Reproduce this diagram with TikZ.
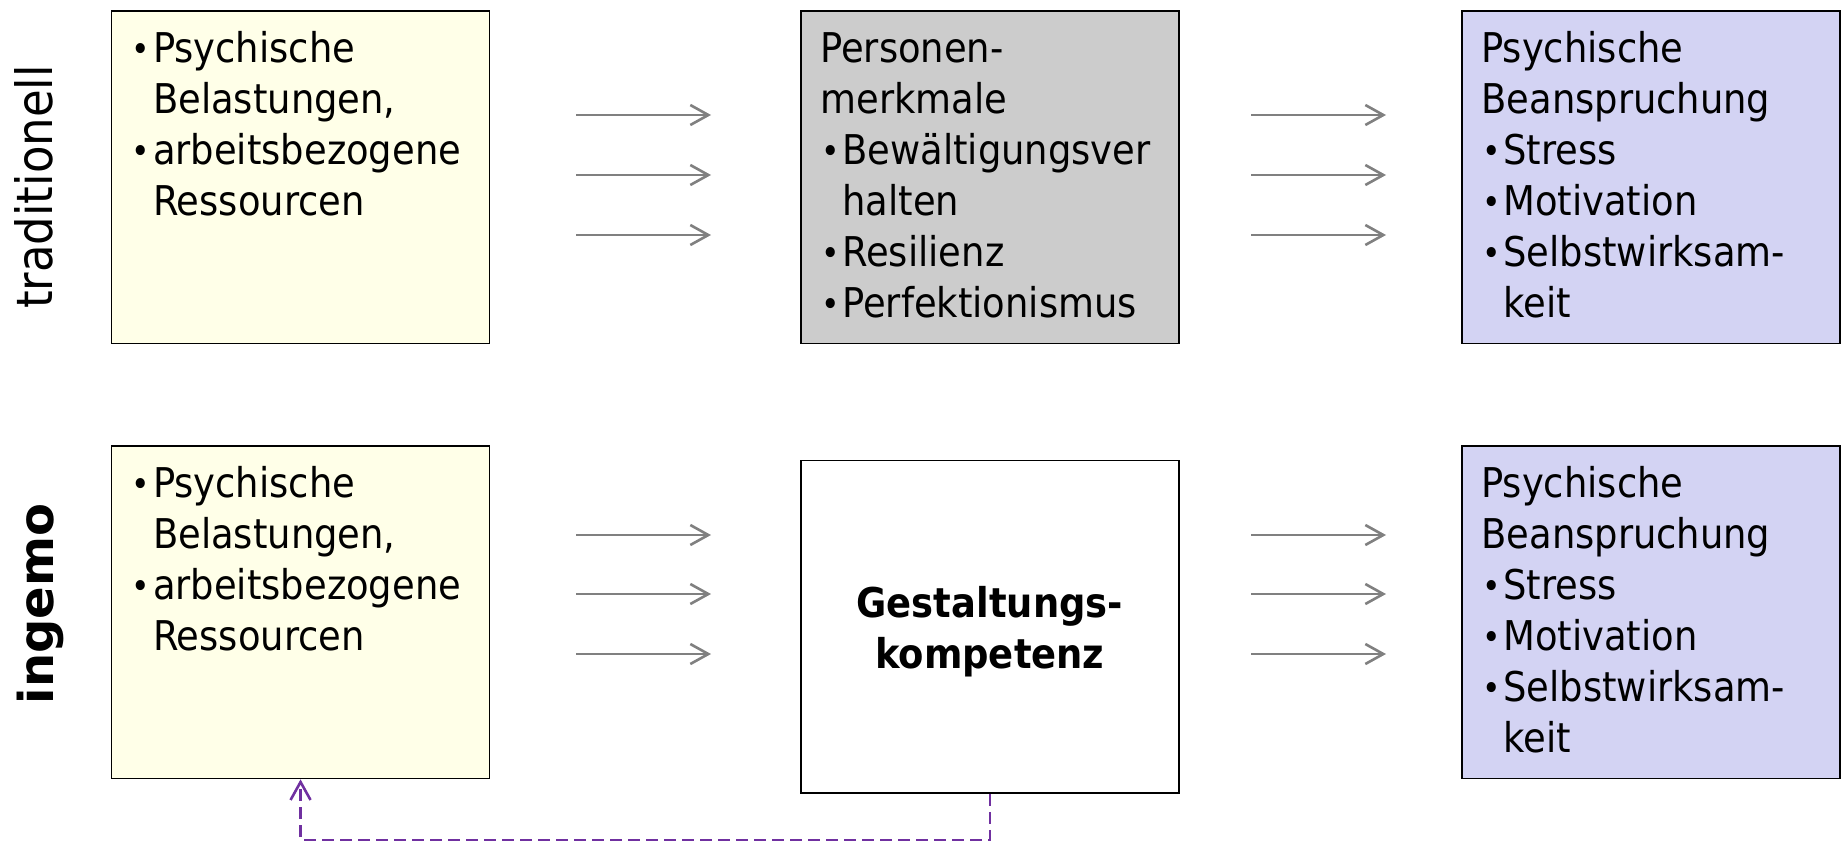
\documentclass[tikz,border=0pt]{standalone}
\usepackage{fontspec}
\usepackage{graphicx}
\setmainfont{DejaVu Sans Condensed}
\newfontfamily\widefont{DejaVu Sans}
\usetikzlibrary{arrows.meta,calc}
\definecolor{boxyellow}{HTML}{FFFFE8}
\definecolor{boxgray}{HTML}{CCCCCC}
\definecolor{boxlav}{HTML}{D3D3F3}
\definecolor{arrgray}{HTML}{808080}
\definecolor{dashpurple}{HTML}{7030A0}
\newcommand{\bul}{\makebox[11pt][l]{\hspace{0.3pt}\raisebox{0.6pt}{\scalebox{0.85}{\textbullet}}}}
\newcommand{\ind}{\hspace*{11pt}}
\begin{document}
\begin{tikzpicture}[x=0.5pt,y=-0.5pt,
  boxstyle/.style={draw=black, line width=0.85pt, anchor=north west, inner sep=0pt,
    minimum width=189pt, minimum height=166.3pt},
  boxtext/.style={anchor=north west, inner sep=0pt, align=left,
    font=\fontsize{20.5}{25.5}\selectfont},
  garrow/.style={draw=arrgray, line width=1.3pt, -{Straight Barb[length=9pt,width=10pt]}},
  dashline/.style={draw=dashpurple, line width=1.3pt, dash pattern=on 6pt off 3pt,
    -{Straight Barb[length=9pt,width=10pt]}},
  sidelabel/.style={rotate=90, inner sep=0pt}
]
\useasboundingbox (0,0) rectangle (1843,841);

% side labels
\node[sidelabel, font=\fontsize{25}{30}\selectfont] (lab1) at (34,187) {traditionell};
\node[sidelabel, font=\widefont\bfseries\fontsize{24}{29}\selectfont] (lab2) at (40,604) {ingemo};

% top row boxes
\node[boxstyle, fill=boxyellow] (b1) at (110.7,10) {};
\node[boxstyle, fill=boxgray] (b2) at (800,10) {};
\node[boxstyle, fill=boxlav] (b3) at (1461,10) {};

% bottom row boxes
\node[boxstyle, fill=boxyellow] (b4) at (110.7,445) {};
\node[boxstyle, fill=white] (b5) at (800,459.5) {};
\node[boxstyle, fill=boxlav] (b6) at (1461,445) {};

% box texts
\node[boxtext] (t1) at ($(b1.north west)+(20,16.3)$) {%
\strut\bul Psychische\\ \strut\ind Belastungen,\\ \strut\bul arbeitsbezogene\\ \strut\ind Ressourcen};
\node[boxtext] (t2) at ($(b2.north west)+(20,16.3)$) {%
\strut Personen-\\ \strut merkmale\\ \strut\bul Bewältigungsver\\ \strut\ind halten\\ \strut\bul Resilienz\\ \strut\bul Perfektionismus};
\node[boxtext] (t3) at ($(b3.north west)+(20,16.3)$) {%
\strut Psychische\\ \strut Beanspruchung\\ \strut\bul Stress\\ \strut\bul Motivation\\ \strut\bul Selbstwirksam-\\ \strut\ind keit};
\node[boxtext] (t4) at ($(b4.north west)+(20,16.3)$) {%
\strut\bul Psychische\\ \strut\ind Belastungen,\\ \strut\bul arbeitsbezogene\\ \strut\ind Ressourcen};
\node[boxtext, anchor=center, align=center, font=\bfseries\fontsize{20.5}{25.5}\selectfont, yshift=-3.15pt] (t5) at (b5.center) {%
\strut Gestaltungs-\\ \strut kompetenz};
\node[boxtext] (t6) at ($(b6.north west)+(20,16.3)$) {%
\strut Psychische\\ \strut Beanspruchung\\ \strut\bul Stress\\ \strut\bul Motivation\\ \strut\bul Selbstwirksam-\\ \strut\ind keit};

% arrow end points
\foreach \n/\y in {1/115,2/175,3/235,4/535,5/594,6/654}{
  \coordinate (l\n s) at (576,\y);
  \coordinate (l\n e) at (711,\y);
  \coordinate (r\n s) at (1251,\y);
  \coordinate (r\n e) at (1386,\y);
}
\foreach \n in {1,...,6}{
  \draw[garrow] (l\n s) -- (l\n e);
  \draw[garrow] (r\n s) -- (r\n e);
}

% dashed feedback
\coordinate (dc) at ($(b5.south)+(0,46)$);
\draw[dashline] (b5.south) -- (dc) -| (b4.south);
\end{tikzpicture}
\end{document}
